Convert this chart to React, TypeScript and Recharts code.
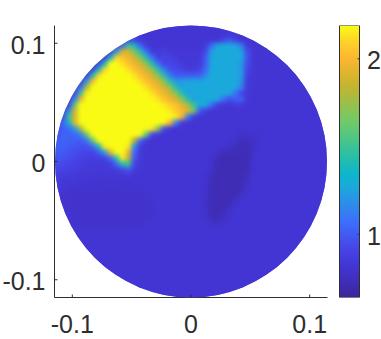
import { Bar, BarChart, Scatter, ScatterChart, XAxis, YAxis } from 'recharts';

const W = 381;
const H = 339;
const INK = '#2e2e2e';
const FONT = '"Liberation Sans", Arial, sans-serif';
const LABEL = 25;

// axes
const LIMIT = 0.115;
const STEP = 0.005;
const xTicks = [-0.1, 0, 0.1];
const yTicks = [-0.1, 0, 0.1];
const barTicks = [1, 2];
const barMin = 0.64;
const barMax = 2.19;

// colormap
const stopValues = [0.64, 0.72, 0.82, 0.92, 1.07, 1.18, 1.27, 1.34, 1.45, 1.64, 1.85, 2.0, 2.1, 2.19];
const stopColors = ['#38279a', '#3f2db5', '#4335d3', '#4645e8', '#3d6efc', '#2b8fe8', '#1ba9dc', '#0cb6cc', '#2bbfa5', '#6fca68', '#c5b42e', '#fcb62f', '#fdd32a', '#f9fb15'];

// field values x100, top row first, each row centred on x = 0
const rows: number[][] = [
  [82,82,82,82,82,82,82,82,82,82,82,82],
  [82,82,82,82,82,82,82,82,82,82,82,82,82,82,82,82,82,82],
  [85,92,90,84,82,82,82,82,82,82,82,82,82,82,82,82,82,90,98,88,82,82,82,82],
  [88,105,150,140,105,86,82,82,82,82,82,82,82,82,82,85,105,125,127,127,127,112,85,82,82,82],
  [85,88,125,190,188,168,142,108,86,84,88,84,83,83,83,83,83,92,122,127,127,127,127,126,96,83,82,82,82,82],
  [84,88,130,210,204,197,188,168,142,108,88,90,90,86,83,83,83,83,100,125,127,127,127,127,127,98,83,82,82,82,82,82],
  [84,90,135,225,225,213,204,197,188,170,142,108,90,92,90,86,84,84,84,100,126,127,127,127,127,122,95,83,82,82,82,82,82,82],
  [84,88,135,210,228,228,224,213,204,197,188,170,142,112,95,92,90,86,86,90,105,126,127,127,127,127,122,92,83,82,82,82,82,82,82,82],
  [84,88,140,210,230,230,230,228,224,213,204,197,188,170,142,112,100,100,100,100,100,115,127,127,127,127,127,122,88,83,82,82,82,82,82,82,82,82],
  [84,88,125,200,230,230,230,230,230,228,224,213,204,197,188,170,142,122,122,125,125,125,127,127,127,127,127,127,118,86,83,82,82,82,82,82,82,82,82,82],
  [84,86,108,180,225,230,230,230,230,230,230,228,224,213,204,197,188,170,142,125,127,127,127,127,127,127,127,127,127,115,85,83,82,82,82,82,82,82,82,82,82,82],
  [85,95,150,215,230,230,230,230,230,230,230,230,228,224,213,204,197,188,170,142,125,127,127,127,127,127,127,127,110,92,84,82,82,82,82,82,82,82,82,82,82,82],
  [84,86,115,195,228,230,230,230,230,230,230,230,230,230,228,224,213,204,197,188,170,142,125,127,127,127,127,108,96,102,102,84,82,82,82,82,82,82,82,82,82,82,82,82],
  [84,92,160,225,230,230,230,230,230,230,230,230,230,230,230,228,224,215,208,203,192,178,150,127,127,105,88,84,82,86,86,82,82,82,82,82,82,82,82,82,82,82,82,82],
  [84,86,120,190,230,230,230,230,230,230,230,230,230,230,230,230,230,228,224,215,208,200,190,165,100,88,82,82,82,82,82,82,82,82,82,82,82,82,82,82,82,82,82,82,82,82],
  [85,95,150,190,225,230,230,230,230,230,230,230,230,230,230,230,230,230,228,224,215,200,115,86,82,82,82,82,82,82,82,82,82,82,82,82,82,82,82,82,82,82,82,82,82,82],
  [88,105,135,195,228,230,230,230,230,230,230,230,230,230,230,230,230,228,225,200,115,86,82,82,82,82,82,82,82,82,82,82,82,82,82,82,82,82,82,82,82,82,82,82,82,82],
  [92,103,105,125,180,228,230,230,230,230,230,230,230,230,230,230,215,170,95,84,82,82,82,82,82,82,82,82,82,82,82,82,82,82,82,82,82,82,82,82,82,82,82,82,82,82],
  [97,103,103,104,115,165,225,230,230,230,230,230,230,230,225,160,92,84,82,82,82,82,82,82,82,82,82,82,82,82,82,80,80,80,81,82,82,82,82,82,82,82,82,82,82,82],
  [100,103,102,102,100,110,160,225,230,230,230,230,230,185,105,85,82,82,82,82,82,82,82,82,82,82,82,82,82,82,80,75,75,78,81,82,82,82,82,82,82,82,82,82,82,82],
  [102,102,100,98,96,96,105,140,215,230,230,230,215,120,86,82,82,82,82,82,82,82,82,82,82,82,82,82,82,80,74,73,73,76,81,82,82,82,82,82,82,82,82,82,82,82],
  [100,100,97,95,93,91,90,100,125,195,230,230,195,105,85,82,82,82,82,82,82,82,82,82,82,82,82,80,75,73,73,73,73,78,82,82,82,82,82,82,82,82,82,82,82,82],
  [98,97,94,92,90,88,87,87,90,105,145,215,180,100,84,82,82,82,82,82,82,82,82,82,82,82,80,74,72,72,72,72,72,80,82,82,82,82,82,82,82,82,82,82,82,82],
  [95,93,91,89,87,86,85,85,85,86,105,140,150,92,83,82,82,82,82,82,82,82,82,82,82,82,79,73,72,72,72,72,72,81,82,82,82,82,82,82,82,82,82,82,82,82],
  [92,90,88,87,86,85,84,84,84,85,86,90,98,86,83,82,82,82,82,82,82,82,82,82,82,82,78,72,72,72,72,72,72,81,82,82,82,82,82,82,82,82,82,82,82,82],
  [88,86,85,84,83,83,83,83,83,83,83,83,84,82,82,82,82,82,82,82,82,82,82,82,82,81,76,72,72,72,72,72,76,82,82,82,82,82,82,82,82,82,82,82,82,82],
  [86,84,83,83,82,82,82,81,81,81,81,81,81,82,82,82,82,82,82,82,82,82,82,82,82,81,74,72,72,72,72,72,78,82,82,82,82,82,82,82,82,82,82,82,82,82],
  [84,83,82,81,81,81,81,81,81,81,81,81,81,81,81,82,82,82,82,82,82,82,82,82,82,80,73,72,72,72,72,72,80,82,82,82,82,82,82,82,82,82,82,82,82,82],
  [83,82,81,80,80,80,80,80,80,80,80,80,80,80,80,81,82,82,82,82,82,82,82,82,82,80,73,72,72,72,72,77,81,82,82,82,82,82,82,82,82,82,82,82,82,82],
  [82,81,81,80,80,80,80,80,80,80,80,80,80,80,80,81,82,82,82,82,82,82,82,82,82,79,73,72,72,72,76,81,82,82,82,82,82,82,82,82,82,82,82,82,82,82],
  [82,81,81,80,80,80,80,80,80,80,80,80,80,80,80,80,81,82,82,82,82,82,82,82,82,78,73,72,72,75,81,82,82,82,82,82,82,82,82,82,82,82,82,82,82,82],
  [82,81,81,80,80,80,80,80,80,80,80,80,80,80,80,80,81,82,82,82,82,82,82,82,82,79,73,72,74,80,82,82,82,82,82,82,82,82,82,82,82,82,82,82,82,82],
  [81,81,80,80,80,80,80,80,80,80,80,80,80,80,80,81,82,82,82,82,82,82,82,82,81,75,73,76,81,82,82,82,82,82,82,82,82,82,82,82,82,82,82,82],
  [81,81,80,80,80,80,80,80,80,80,80,80,80,80,81,82,82,82,82,82,82,82,82,82,82,79,77,80,82,82,82,82,82,82,82,82,82,82,82,82,82,82,82,82],
  [81,81,81,81,81,81,81,81,81,81,81,82,82,82,82,82,82,82,82,82,82,82,82,82,82,82,82,82,82,82,82,82,82,82,82,82,82,82,82,82,82,82],
  [82,82,82,82,82,82,82,82,82,82,82,82,82,82,82,82,82,82,82,82,82,82,82,82,82,82,82,82,82,82,82,82,82,82,82,82,82,82,82,82,82,82],
  [82,82,82,82,82,82,82,82,82,82,82,82,82,82,82,82,82,82,82,82,82,82,82,82,82,82,82,82,82,82,82,82,82,82,82,82,82,82,82,82],
  [82,82,82,82,82,82,82,82,82,82,82,82,82,82,82,82,82,82,82,82,82,82,82,82,82,82,82,82,82,82,82,82,82,82,82,82,82,82],
  [82,82,82,82,82,82,82,82,82,82,82,82,82,82,82,82,82,82,82,82,82,82,82,82,82,82,82,82,82,82,82,82,82,82,82,82],
  [82,82,82,82,82,82,82,82,82,82,82,82,82,82,82,82,82,82,82,82,82,82,82,82,82,82,82,82,82,82,82,82,82,82],
  [82,82,82,82,82,82,82,82,82,82,82,82,82,82,82,82,82,82,82,82,82,82,82,82,82,82,82,82,82,82,82,82],
  [82,82,82,82,82,82,82,82,82,82,82,82,82,82,82,82,82,82,82,82,82,82,82,82,82,82,82,82,82,82],
  [82,82,82,82,82,82,82,82,82,82,82,82,82,82,82,82,82,82,82,82,82,82,82,82,82,82],
  [82,82,82,82,82,82,82,82,82,82,82,82,82,82,82,82,82,82,82,82,82,82,82,82],
  [82,82,82,82,82,82,82,82,82,82,82,82,82,82,82,82,82,82],
  [82,82,82,82,82,82,82,82,82,82,82,82],
];

const plotLeft = 54.5;
const plotTop = 25.5;
const plotW = 273;
const plotH = 272;
const cellPx = (STEP / (2 * LIMIT)) * plotW + 0.8;

const cells = rows.flatMap((row, i) =>
  row.map((v, k) => ({
    x: -LIMIT + STEP * ((rows.length - row.length) / 2 + k + 0.5),
    y: LIMIT - STEP * (i + 0.5),
    z: v / 100,
  })),
);

function hexToRgb(h: string) {
  return [1, 3, 5].map((p) => parseInt(h.slice(p, p + 2), 16));
}

function colorOf(v: number) {
  if (v <= stopValues[0]) return stopColors[0];
  for (let i = 1; i < stopValues.length; i++) {
    if (v <= stopValues[i]) {
      const t = (v - stopValues[i - 1]) / (stopValues[i] - stopValues[i - 1]);
      const a = hexToRgb(stopColors[i - 1]);
      const b = hexToRgb(stopColors[i]);
      return `rgb(${a.map((c, n) => Math.round(c + (b[n] - c) * t)).join(',')})`;
    }
  }
  return stopColors[stopColors.length - 1];
}

function HeatCell(props: any) {
  const { cx, cy, payload, grow = 1 } = props;
  const s = cellPx * grow;
  return <rect x={cx - s / 2} y={cy - s / 2} width={s} height={s} fill={colorOf(payload.z)} />;
}

function XTick({ x, y, payload }: any) {
  return (
    <g>
      <line x1={x} x2={x} y1={y} y2={y - 3} stroke={INK} />
      <text x={x} y={y + 35} textAnchor="middle" fontSize={LABEL} fill={INK} fontFamily={FONT}>{payload.value}</text>
    </g>
  );
}

function YTick({ x, y, payload }: any) {
  return (
    <g>
      <line x1={x} x2={x + 3} y1={y} y2={y} stroke={INK} />
      <text x={x - 9} y={y + 10.5} textAnchor="end" fontSize={LABEL} fill={INK} fontFamily={FONT}>{payload.value}</text>
    </g>
  );
}

function BarTick({ x, y, payload }: any) {
  return (
    <g>
      <line x1={x} x2={x - 2} y1={y} y2={y} stroke={INK} />
      <text x={x + 7.5} y={y + 10.5} textAnchor="start" fontSize={LABEL} fill={INK} fontFamily={FONT}>{payload.value}</text>
    </g>
  );
}

const barData = [{ name: 'scale', range: [barMin, barMax] }];

export default function App() {
  return (
    <div style={{ position: 'absolute', left: 0, top: 0, width: W, height: H, background: '#fff' }}>
      <style>{`.disc .recharts-scatter { filter: blur(2.2px); clip-path: url(#discClip); }`}</style>
      <div className="disc" style={{ position: 'absolute', left: 0, top: 0 }}>
        <ScatterChart width={W} height={H} margin={{ top: plotTop, right: W - plotLeft - plotW, bottom: 0, left: 0 }}>
          <defs>
            <clipPath id="discClip">
              <circle cx={plotLeft + plotW / 2} cy={plotTop + plotH / 2} r={plotH / 2} />
            </clipPath>
          </defs>
          <XAxis
            type="number"
            dataKey="x"
            domain={[-LIMIT, LIMIT]}
            ticks={xTicks}
            interval={0}
            height={H - plotTop - plotH}
            tickSize={0}
            tickMargin={0}
            tick={<XTick />}
            tickLine={false}
            axisLine={{ stroke: INK }}
          />
          <YAxis
            type="number"
            dataKey="y"
            domain={[-LIMIT, LIMIT]}
            ticks={yTicks}
            interval={0}
            width={plotLeft}
            tickSize={0}
            tickMargin={0}
            tick={<YTick />}
            tickLine={false}
            axisLine={{ stroke: INK }}
          />
          {/* oversized copy under the cells so the blur has no white to fade into at the rim */}
          <Scatter data={cells} shape={<HeatCell grow={3} />} isAnimationActive={false} />
          <Scatter data={cells} shape={<HeatCell />} isAnimationActive={false} />
        </ScatterChart>
      </div>
      <div style={{ position: 'absolute', left: 0, top: 0 }}>
        <BarChart
          width={W}
          height={H}
          data={barData}
          margin={{ top: plotTop, bottom: H - plotTop - plotH, left: 339.5, right: 0 }}
          barCategoryGap={0}
        >
          <defs>
            <linearGradient id="barScale" x1="0" y1="1" x2="0" y2="0">
              {stopValues.map((v, i) => (
                <stop key={v} offset={(v - barMin) / (barMax - barMin)} stopColor={stopColors[i]} />
              ))}
            </linearGradient>
          </defs>
          <XAxis dataKey="name" hide />
          <YAxis
            orientation="right"
            type="number"
            domain={[barMin, barMax]}
            ticks={barTicks}
            interval={0}
            width={21.5}
            tickSize={0}
            tickMargin={0}
            tick={<BarTick />}
            tickLine={false}
            axisLine={false}
            allowDataOverflow
          />
          <Bar dataKey="range" fill="url(#barScale)" stroke={INK} isAnimationActive={false} />
        </BarChart>
      </div>
    </div>
  );
}
